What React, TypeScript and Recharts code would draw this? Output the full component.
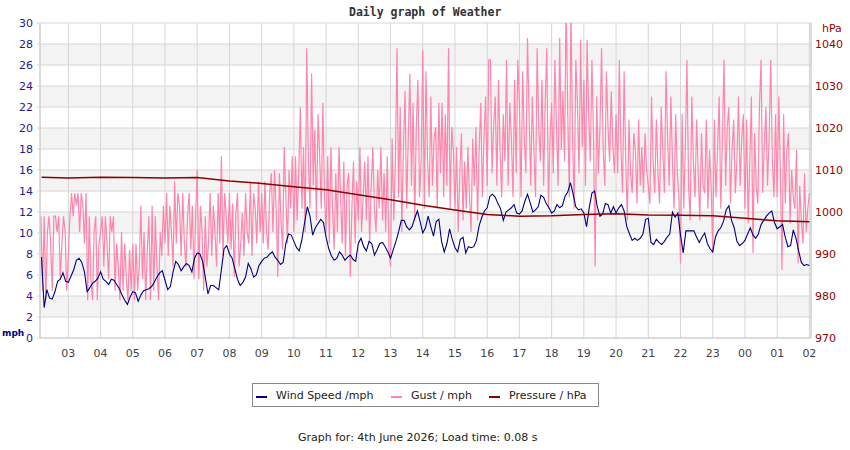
import React from 'react';
import { LineChart, Line, XAxis, YAxis, CartesianGrid } from 'recharts';

// Times are hours since midnight of the start day (26 = 02:00 next day)
const windStart = 2 + 10 / 60;
const windStep = 5 / 60;
// 5-minute average wind speed, mph (02:10 .. 02:00)
const windSpeed = [
    7.7, 2.9, 4.6, 3.8, 3.7, 4.4, 5.4, 5.6, 6.2, 5.4, 5.3,
    5.9, 6.5, 7.4, 7.6, 7.2, 6.3, 4.4, 4.8, 5.2, 5.4, 5.7, 6.3,
    5.6, 5.4, 5.1, 5.6, 5.5, 5.1, 4.7, 4.1, 3.6, 3.2, 3.9, 4.4,
    4.3, 3.5, 4.1, 4.5, 4.6, 4.7, 4.9, 5.3, 5.8, 6.2, 6.4, 5.5,
    4.6, 4.9, 6.3, 7.3, 7.0, 6.4, 6.8, 7.1, 6.9, 6.3, 7.6, 8.1,
    8.0, 7.3, 5.8, 4.2, 5.0, 5.0, 4.8, 4.6, 6.5, 8.5, 8.8, 8.0,
    7.6, 6.6, 5.6, 5.0, 5.3, 5.8, 7.1, 6.6, 5.8, 6.0, 6.9, 7.3,
    7.6, 7.7, 8.0, 8.2, 7.7, 7.4, 7.0, 7.2, 9.0, 9.9, 9.8, 9.2,
    8.6, 8.3, 9.4, 11.0, 12.5, 11.6, 9.8, 10.5, 10.9, 11.3, 11.0, 9.6,
    8.5, 7.8, 7.4, 7.6, 8.2, 7.9, 7.4, 7.7, 7.9, 7.5, 7.3, 9.0,
    9.5, 8.7, 8.3, 9.2, 9.0, 7.9, 8.4, 9.0, 9.1, 8.7, 8.2, 7.6,
    8.4, 9.2, 10.1, 11.2, 11.2, 10.6, 10.3, 10.6, 11.4, 12.1, 11.1, 10.0,
    10.5, 11.6, 10.6, 9.7, 11.1, 11.3, 9.2, 8.2, 9.0, 10.4, 9.4, 8.6,
    8.2, 9.4, 9.6, 8.1, 8.7, 8.6, 8.7, 9.3, 10.7, 11.5, 12.1, 12.4,
    13.5, 13.7, 13.4, 12.8, 12.3, 11.2, 12.0, 12.2, 12.4, 12.7, 11.9, 11.8,
    12.1, 13.0, 13.7, 12.9, 12.0, 12.2, 12.5, 13.6, 13.4, 12.8, 12.4, 11.9,
    12.1, 12.7, 12.4, 12.6, 13.5, 13.9, 14.8, 13.7, 12.5, 12.2, 12.3, 11.9,
    10.6, 12.4, 13.8, 14.0, 12.5, 11.6, 11.8, 12.8, 12.7, 11.9, 12.5, 11.9,
    12.4, 12.7, 12.1, 10.6, 9.9, 9.3, 9.5, 9.3, 9.5, 9.9, 11.3, 11.4,
    9.1, 8.9, 9.4, 9.1, 8.9, 9.2, 9.6, 9.9, 12.0, 11.5, 11.9, 9.8,
    8.1, 10.2, 10.2, 10.2, 10.2, 9.6, 9.1, 9.6, 10.0, 9.0, 8.5, 8.2,
    9.6, 10.2, 10.5, 11.1, 12.2, 12.6, 11.2, 10.5, 9.2, 8.8, 9.0, 9.3,
    9.9, 10.5, 9.8, 9.5, 9.9, 10.8, 11.2, 11.6, 11.9, 12.1, 11.0, 10.4,
    10.6, 10.8, 9.6, 8.7, 8.8, 10.3, 9.5, 8.3, 7.2, 6.9, 7.0, 6.9,
];

const gustStart = 2.15;
const gustStep = 3 / 60;
// 3-minute peak gust, mph (02:09 .. 02:00)
const gustSpeed = [
    11.6, 4.5, 11.6, 3.6, 10.1, 11.6, 9.0, 4.5, 11.6, 11.6, 10.1, 11.6, 5.6, 9.0, 11.6, 10.1, 4.5, 7.8,
    11.6, 13.8, 11.6, 13.8, 12.6, 13.8, 10.1, 13.8, 12.6, 9.0, 13.8, 3.6, 11.6, 5.6, 3.6, 10.1, 11.6, 3.6, 9.0, 10.1,
    11.6, 6.8, 11.6, 9.0, 5.6, 11.6, 10.1, 11.6, 4.5, 9.0, 6.8, 3.6, 10.1, 4.5, 9.0, 5.6, 3.6, 8.4, 4.5, 9.0,
    3.6, 9.0, 4.5, 6.8, 12.6, 5.6, 10.1, 3.6, 8.4, 11.6, 3.6, 12.6, 4.5, 11.6, 6.8, 3.6, 10.1, 7.8, 12.6, 9.0,
    13.8, 7.8, 12.6, 10.1, 6.8, 14.9, 9.0, 13.8, 12.6, 7.8, 13.8, 9.0, 6.8, 11.6, 13.8, 8.4, 12.6, 5.6, 11.6, 16.0,
    5.6, 12.6, 10.1, 4.5, 11.6, 6.8, 9.0, 13.8, 7.8, 12.6, 10.1, 6.8, 13.8, 9.0, 17.3, 7.8, 13.8, 11.6, 9.0, 13.8,
    8.4, 12.8, 5.8, 11.9, 13.8, 6.8, 9.0, 11.9, 7.8, 13.8, 10.1, 9.0, 14.9, 7.8, 13.8, 12.3, 9.0, 14.9, 10.1, 13.8,
    9.0, 14.9, 10.1, 8.4, 13.8, 15.7, 10.1, 16.0, 12.3, 5.8, 15.7, 11.2, 8.4, 18.2, 13.4, 9.0, 16.0, 12.3, 17.3, 10.1,
    17.3, 11.2, 15.7, 22.0, 12.3, 18.2, 10.1, 27.6, 16.8, 12.3, 25.2, 14.5, 19.8, 11.2, 21.3, 17.3, 12.3, 22.4, 13.4, 10.1,
    17.3, 9.0, 18.2, 12.3, 8.4, 15.7, 10.1, 18.2, 13.4, 9.0, 16.8, 7.8, 14.5, 15.7, 5.8, 12.3, 16.8, 9.0, 14.9, 11.2,
    18.2, 10.1, 13.4, 16.8, 11.2, 17.3, 9.0, 14.5, 18.2, 12.3, 10.1, 16.0, 12.3, 18.2, 11.2, 15.7, 10.1, 17.3, 8.4, 6.8,
    19.0, 11.2, 16.8, 27.6, 13.4, 22.0, 10.1, 18.2, 23.5, 12.3, 19.0, 25.2, 14.5, 22.4, 11.2, 20.1, 24.6, 13.4, 16.8, 27.4,
    12.3, 25.4, 16.8, 13.4, 23.0, 14.5, 19.0, 20.1, 12.3, 22.4, 15.7, 22.4, 13.4, 21.3, 14.5, 27.6, 12.3, 20.1, 17.9, 12.3,
    18.2, 10.1, 15.7, 19.5, 11.2, 16.8, 12.3, 18.2, 13.4, 10.1, 19.0, 14.5, 20.1, 11.2, 17.9, 22.4, 13.4, 19.0, 23.0, 14.5,
    26.5, 26.5, 15.7, 20.1, 23.0, 14.5, 24.6, 17.9, 13.4, 21.3, 16.8, 26.5, 14.5, 22.4, 19.0, 13.4, 24.6, 15.7, 26.5, 22.4,
    13.4, 25.4, 19.0, 15.7, 28.6, 21.3, 14.5, 23.0, 17.9, 13.4, 27.6, 20.1, 16.8, 24.6, 14.5, 22.4, 27.6, 12.3, 19.0, 22.4,
    15.7, 26.5, 20.1, 14.5, 28.6, 17.9, 23.5, 16.8, 32.5, 21.3, 13.4, 31.5, 19.0, 12.3, 26.5, 22.4, 15.7, 28.4, 18.2, 24.6,
    14.5, 28.4, 21.3, 16.8, 26.5, 19.0, 6.8, 23.0, 15.7, 20.1, 27.6, 17.9, 14.5, 25.4, 20.1, 16.8, 23.5, 18.2, 15.7, 21.3,
    15.7, 26.5, 18.2, 13.8, 25.4, 16.8, 11.2, 20.8, 15.7, 13.8, 19.5, 17.9, 12.8, 20.8, 14.5, 18.2, 13.8, 19.5, 16.0, 14.5,
    12.8, 23.0, 16.8, 13.8, 20.8, 15.7, 12.8, 22.0, 17.9, 13.8, 25.4, 19.0, 14.5, 23.0, 16.8, 12.3, 21.3, 15.7, 13.4, 7.1,
    21.3, 12.3, 18.2, 26.5, 14.5, 11.2, 23.0, 16.8, 13.4, 20.8, 15.7, 11.2, 19.5, 14.5, 13.8, 20.8, 12.3, 17.9, 14.5, 8.1,
    20.8, 13.4, 17.9, 23.0, 12.3, 19.0, 26.5, 14.5, 20.1, 22.0, 12.8, 17.9, 20.8, 13.8, 16.8, 23.0, 14.5, 19.0, 21.3, 12.3,
    20.8, 10.9, 16.8, 23.0, 8.1, 19.5, 14.5, 12.8, 22.0, 26.5, 13.8, 18.2, 22.0, 14.5, 19.0, 26.5, 16.8, 13.4, 21.3, 13.4,
    23.0, 15.7, 6.5, 21.3, 12.8, 17.9, 19.5, 10.9, 16.0, 13.4, 12.3, 17.9, 7.1, 14.5, 11.2, 9.0, 15.7, 10.1, 12.3, 13.8,
];

// Hourly pressure, hPa
const pressureTimes = [2.17, 3, 4, 5, 6, 7, 8, 9, 10, 11, 12, 13, 14, 15, 16, 17, 18, 19, 20, 21, 22, 23, 24, 25, 26];
const pressure = [
    1008.3, 1008.1, 1008.3, 1008.2, 1008.1, 1008.2, 1007.4, 1006.8, 1006.0, 1005.3, 1004.1, 1002.9, 1001.6,
    1000.5, 999.4, 999.0, 999.1, 999.4, 999.6, 999.3, 999.2, 999.1, 998.5, 997.9, 997.7,
];

const hourTicks = [3, 4, 5, 6, 7, 8, 9, 10, 11, 12, 13, 14, 15, 16, 17, 18, 19, 20, 21, 22, 23, 24, 25, 26];
const mphTicks = [0, 2, 4, 6, 8, 10, 12, 14, 16, 18, 20, 22, 24, 26, 28, 30];
const hpaTicks = [970, 980, 990, 1000, 1010, 1020, 1030, 1040];

const windData = windSpeed.map((v, i) => ({ t: windStart + i * windStep, v }));
const gustData = gustSpeed.map((v, i) => ({ t: gustStart + i * gustStep, v }));
const pressureData = pressure.map((v, i) => ({ t: pressureTimes[i], v }));

const WIND = '#000080';
const GUST = '#ff85aa';
const PRESS = '#8b0000';
const GRID = '#d6d6d6';
const sans = '"DejaVu Sans", Verdana, sans-serif';

const hourLabel = (h: number) => String(h % 24).padStart(2, '0');

function LegendItem({ left, color, text }: { left: number; color: string; text: string }) {
    return (
        <>
            <div style={{ position: 'absolute', left, top: 396, width: 11, height: 2, background: color }} />
            <div style={{ position: 'absolute', left: left + 20, top: 389, lineHeight: '14px', whiteSpace: 'nowrap' }}>{text}</div>
        </>
    );
}

export default function App() {
    return (
        <div style={{ position: 'absolute', left: 0, top: 0, width: 850, height: 450, background: '#fff', fontFamily: sans, fontSize: 11, color: '#222' }}>
            <div
                style={{
                    position: 'absolute', left: 349, top: 5, lineHeight: '14px', whiteSpace: 'nowrap',
                    fontFamily: '"DejaVu Sans Mono", monospace', fontWeight: 'bold', fontSize: 11.5, color: '#333',
                }}
            >
                Daily graph of Weather
            </div>

            <LineChart width={850} height={450} data={windData} margin={{ top: 23, right: 0, bottom: 82, left: 0 }}>
                <CartesianGrid
                    yAxisId="mph"
                    stroke={GRID}
                    horizontalFill={['#ffffff', '#f3f3f3']}
                    fillOpacity={1}
                />
                <XAxis
                    dataKey="t"
                    type="number"
                    domain={[2.12, 26.05]}
                    allowDataOverflow
                    ticks={hourTicks}
                    interval={0}
                    tickFormatter={hourLabel}
                    height={30}
                    tickLine={false}
                    tickSize={6}
                    tickMargin={5}
                    axisLine={{ stroke: '#cccccc' }}
                    tick={{ fill: '#444', fontSize: 11, fontFamily: sans }}
                />
                <YAxis
                    yAxisId="mph"
                    orientation="left"
                    domain={[0, 30]}
                    allowDataOverflow
                    ticks={mphTicks}
                    interval={0}
                    width={40}
                    tickSize={3}
                    tickMargin={4}
                    tickLine={{ stroke: GRID }}
                    axisLine={{ stroke: '#cccccc' }}
                    tick={{ fill: '#1c1c8c', fontSize: 11, fontFamily: sans }}
                />
                <YAxis
                    yAxisId="hpa"
                    orientation="right"
                    domain={[970, 1045]}
                    allowDataOverflow
                    ticks={hpaTicks}
                    interval={0}
                    width={39}
                    tickLine={false}
                    tickSize={2}
                    tickMargin={2}
                    axisLine={{ stroke: '#cccccc' }}
                    tick={{ fill: '#990000', fontSize: 11, fontFamily: sans }}
                />
                {/* gusts underneath, then wind, pressure on top */}
                <Line
                    data={gustData}
                    yAxisId="mph"
                    dataKey="v"
                    type="linear"
                    stroke={GUST}
                    strokeWidth={1.2}
                    dot={false}
                    isAnimationActive={false}
                />
                <Line
                    data={windData}
                    yAxisId="mph"
                    dataKey="v"
                    type="linear"
                    stroke={WIND}
                    strokeWidth={1.1}
                    dot={false}
                    isAnimationActive={false}
                />
                <Line
                    data={pressureData}
                    yAxisId="hpa"
                    dataKey="v"
                    type="linear"
                    stroke={PRESS}
                    strokeWidth={1.5}
                    dot={false}
                    isAnimationActive={false}
                />
            </LineChart>

            {/* axis captions */}
            <div style={{ position: 'absolute', left: 2, top: 326, lineHeight: '14px', fontWeight: 'bold', fontSize: 9, color: WIND }}>mph</div>
            <div style={{ position: 'absolute', left: 822, top: 22, lineHeight: '14px', color: '#990000' }}>hPa</div>

            {/* legend */}
            <div style={{ position: 'absolute', left: 252, top: 383, width: 347, height: 24, border: '1px solid #888', boxSizing: 'border-box' }} />
            <LegendItem left={256} color={WIND} text="Wind Speed /mph" />
            <LegendItem left={391} color={GUST} text="Gust / mph" />
            <LegendItem left={489} color={PRESS} text="Pressure / hPa" />

            <div style={{ position: 'absolute', left: 298, top: 431, lineHeight: '14px', whiteSpace: 'nowrap' }}>
                Graph for: 4th June 2026; Load time: 0.08 s
            </div>
        </div>
    );
}
